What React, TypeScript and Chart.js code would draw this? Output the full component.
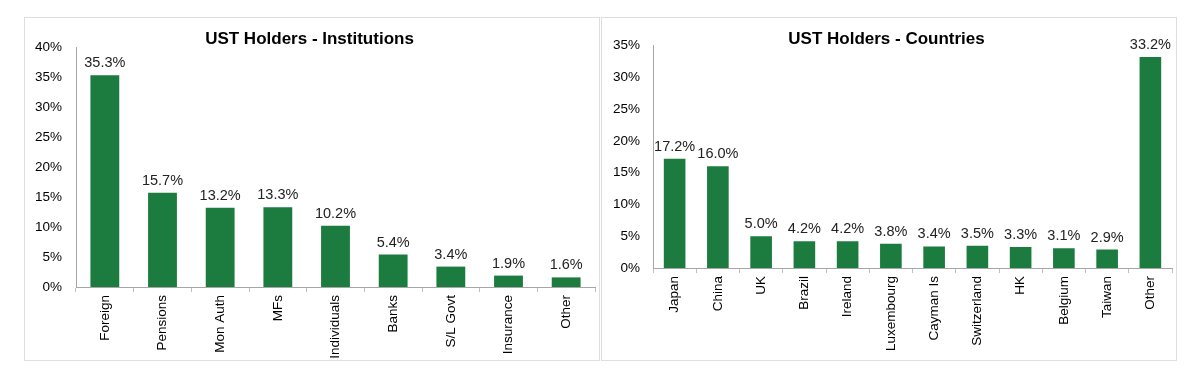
import React, { useEffect, useRef } from "react";
import { Chart, registerables } from "chart.js";

Chart.register(...registerables);

const instTitle = "UST Holders - Institutions";
const instLabels = ["Foreign", "Pensions", "Mon Auth", "MFs", "Individuals", "Banks", "S/L Govt", "Insurance", "Other"];
const instValues = [35.3, 15.7, 13.2, 13.3, 10.2, 5.4, 3.4, 1.9, 1.6];
const instMax = 40;

const ctryTitle = "UST Holders - Countries";
const ctryLabels = ["Japan", "China", "UK", "Brazil", "Ireland", "Luxembourg", "Cayman Is", "Switzerland", "HK", "Belgium", "Taiwan", "Other"];
const ctryValues = [17.2, 16.0, 5.0, 4.2, 4.2, 3.8, 3.4, 3.5, 3.3, 3.1, 2.9, 33.2];
const ctryMax = 35;

const GREEN = "#1c7b3e";
const FONT = "'Liberation Sans', Arial, sans-serif";
const W = 576;
const H = 344;

const valueLabels = {
  id: "valueLabels",
  afterDatasetsDraw(chart: any) {
    const ctx = chart.ctx;
    const meta = chart.getDatasetMeta(0);
    const data = chart.data.datasets[0].data as number[];
    ctx.save();
    ctx.font = `14.5px ${FONT}`;
    ctx.fillStyle = "#222";
    ctx.textAlign = "center";
    ctx.textBaseline = "alphabetic";
    meta.data.forEach((bar: any, i: number) => {
      ctx.fillText(data[i].toFixed(1) + "%", bar.x, bar.y - 8);
    });
    ctx.restore();
  },
};

type PanelProps = {
  left: number;
  title: string;
  labels: string[];
  values: number[];
  max: number;
  yWidth: number;
  xHeight: number;
  titlePadBottom: number;
  tickPad: number;
};

function Panel(p: PanelProps) {
  const ref = useRef<HTMLCanvasElement | null>(null);
  useEffect(() => {
    if (!ref.current) return;
    const chart = new Chart(ref.current, {
      type: "bar",
      data: {
        labels: p.labels,
        datasets: [
          {
            data: p.values,
            backgroundColor: GREEN,
            barPercentage: 0.5,
            categoryPercentage: 1,
          },
        ],
      },
      options: {
        responsive: false,
        animation: false,
        devicePixelRatio: 1,
        layout: { padding: { left: 0, right: 5, top: 0, bottom: 0 } },
        plugins: {
          legend: { display: false },
          tooltip: { enabled: false },
          title: {
            display: true,
            text: p.title,
            color: "#000",
            font: { family: FONT, size: 17, weight: "bold", lineHeight: 1 },
            padding: { top: 14, bottom: p.titlePadBottom },
          },
        },
        scales: {
          x: {
            afterFit: (s: any) => {
              s.height = p.xHeight;
            },
            grid: {
              display: true,
              drawOnChartArea: false,
              drawTicks: true,
              tickLength: 5,
              color: "#bfbfbf",
              offset: true,
            },
            border: { display: true, color: "#a6a6a6" },
            ticks: {
              minRotation: 90,
              maxRotation: 90,
              autoSkip: false,
              padding: 3,
              color: "#000",
              font: { family: FONT, size: 13.5 },
            },
          },
          y: {
            min: 0,
            max: p.max,
            afterFit: (s: any) => {
              s.width = p.yWidth;
            },
            grid: { display: false, drawTicks: false },
            border: { display: true, color: "#a6a6a6" },
            ticks: {
              stepSize: 5,
              padding: p.tickPad,
              color: "#000",
              font: { family: FONT, size: 13.5 },
              callback: (v: any) => v + "%",
            },
          },
        },
      },
      plugins: [valueLabels],
    } as any);
    return () => chart.destroy();
  }, []);
  return (
    <div
      style={{
        position: "absolute",
        left: p.left,
        top: 17,
        width: W,
        height: H,
        border: "1px solid #dedede",
        boxSizing: "border-box",
        background: "#fff",
      }}
    >
      <canvas
        ref={ref}
        width={W}
        height={H}
        style={{ position: "absolute", left: -1, top: -1, width: W, height: H }}
      />
    </div>
  );
}

export default function App() {
  return (
    <div style={{ position: "absolute", left: 0, top: 0, width: 1200, height: 380, background: "#fff" }}>
      <Panel
        left={24}
        title={instTitle}
        labels={instLabels}
        values={instValues}
        max={instMax}
        yWidth={52}
        xHeight={74}
        titlePadBottom={-1}
        tickPad={14}
      />
      <Panel
        left={601}
        title={ctryTitle}
        labels={ctryLabels}
        values={ctryValues}
        max={ctryMax}
        yWidth={52}
        xHeight={93}
        titlePadBottom={-2.5}
        tickPad={13}
      />
    </div>
  );
}
